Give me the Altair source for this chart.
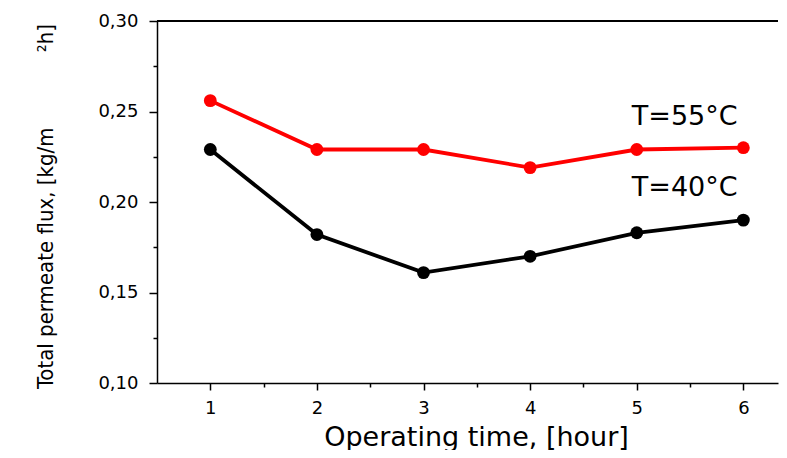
import altair as alt
import pandas as pd

# ---- data ----
hours = [1, 2, 3, 4, 5, 6]
flux_55 = [0.256, 0.229, 0.229, 0.219, 0.229, 0.230]
flux_40 = [0.229, 0.182, 0.161, 0.170, 0.183, 0.190]
series_names = ["T=55°C", "T=40°C"]
series_colors = ["#ff0000", "#000000"]
label_hour = [5.45, 5.45]
label_flux = [0.247, 0.2077]
x_tick_values = [1, 1.5, 2, 2.5, 3, 3.5, 4, 4.5, 5, 5.5, 6]
y_tick_values = [0.10, 0.125, 0.15, 0.175, 0.20, 0.225, 0.25, 0.275, 0.30]
x_title = "Operating time, [hour]"
y_title = "Total permeate flux, [kg/m" + "\u00a0" * 12 + "²h]"

df = pd.DataFrame({
    "hour": hours * 2,
    "flux": flux_55 + flux_40,
    "series": [series_names[0]] * len(hours) + [series_names[1]] * len(hours),
})
labels = pd.DataFrame({"hour": label_hour, "flux": label_flux, "series": series_names})

FONT = "DejaVu Sans"
TITLE_FONT_Y = "DejaVu Sans Condensed"

x_scale = alt.Scale(domain=[0.5, 6.325], nice=False, zero=False)
y_scale = alt.Scale(domain=[0.10, 0.30], nice=False, zero=False)
color_scale = alt.Scale(domain=series_names, range=series_colors)

x_axis = alt.Axis(
    values=x_tick_values,
    title=x_title,
    labelExpr="datum.value % 1 == 0 ? format(datum.value, 'd') : ''",
    tickSize={"condition": {"test": "datum.value % 1 != 0", "value": 4}, "value": 7},
    labelPadding=9,
    labelFontSize=18,
    titleFontSize=27,
    titleX=319,
    titleY=62,
    titleAlign="center",
    titleBaseline="alphabetic",
    grid=False,
)
y_axis = alt.Axis(
    values=y_tick_values,
    title=y_title,
    labelExpr="round(datum.value*1000) % 50 == 0 ? replace(format(datum.value, '.2f'), '.', ',') : ''",
    tickSize={"condition": {"test": "round(datum.value*1000) % 50 != 0", "value": 4}, "value": 8},
    labelPadding=11,
    labelFontSize=18,
    titleFont=TITLE_FONT_Y,
    titleFontSize=22,
    titleAngle=-90,
    titleX=-105,
    titleY=185,
    titleAlign="center",
    titleBaseline="alphabetic",
    grid=False,
)

x_enc = alt.X("hour:Q", scale=x_scale, axis=x_axis)
y_enc = alt.Y("flux:Q", scale=y_scale, axis=y_axis)
c_enc = alt.Color("series:N", scale=color_scale, legend=None)

base = alt.Chart(df).encode(x=x_enc, y=y_enc, color=c_enc)
lines = base.mark_line(strokeWidth=3.8)
points = base.mark_circle(size=165, opacity=1)

texts = alt.Chart(labels).mark_text(
    font=FONT, fontSize=27, align="center", baseline="middle", color="black"
).encode(x=x_enc, y=y_enc, text="series:N")

top_border = alt.Chart(df).mark_rule(color="black", strokeWidth=1.5).encode(
    x=alt.value(0), x2=alt.value(621), y=alt.value(0)
)

chart = alt.layer(lines, points, texts, top_border).properties(
    width=621,
    height=362,
    autosize=alt.AutoSizeParams(type="none"),
    padding={"left": 149, "top": 13, "right": 1, "bottom": 67},
).configure_view(stroke=None).configure_axis(
    labelFont=FONT,
    titleFont=FONT,
    labelColor="black",
    titleColor="black",
    titleFontWeight="normal",
    domainColor="black",
    tickColor="black",
    domainWidth=1.5,
    tickWidth=1.5,
)

chart.save("out.html", embed_options={"renderer": "svg", "actions": False})
